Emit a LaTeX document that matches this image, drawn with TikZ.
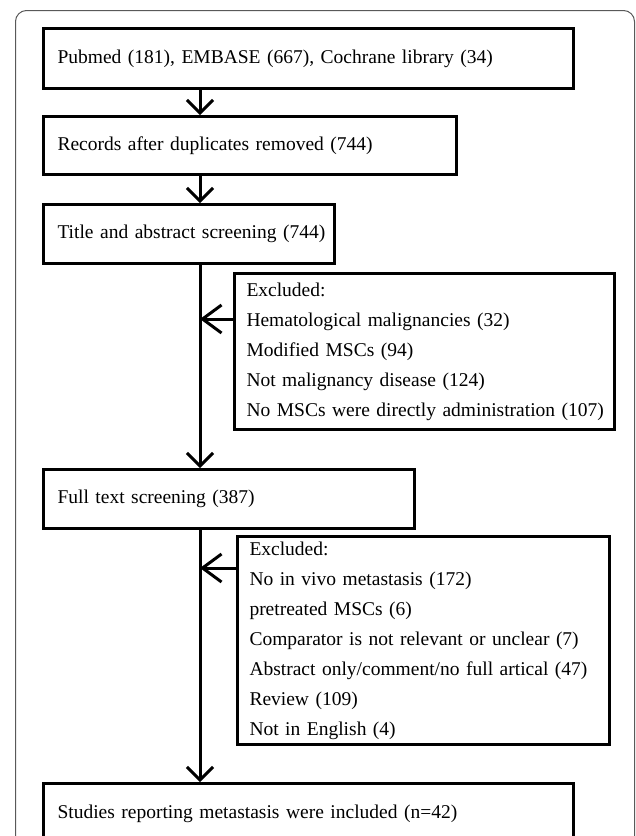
\documentclass[tikz,border=0pt]{standalone}
\usepackage{fontspec}
\setmainfont{Liberation Serif}
\usetikzlibrary{arrows.meta}
\newcommand{\oneline}[1]{\mbox{#1}}
\begin{document}
\begin{tikzpicture}[x=1pt,y=-1pt,
  box/.style={draw=black,line width=3pt,fill=white,anchor=north west,align=left,
    inner xsep=14pt,inner ysep=0pt,font=\fontsize{19.5}{30}\selectfont},
  exbox/.style={box,inner xsep=12pt},
  arr/.style={line width=3pt,-{Straight Barb[length=13pt,width=26pt,line width=3pt]}},
  harr/.style={line width=3pt,-{Straight Barb[length=19pt,width=28pt,line width=3pt]}},
  frame/.style={draw=black!65,line width=1pt,rounded corners=11pt}]
\useasboundingbox (0,0) rectangle (636,836);
\begin{scope}
\clip (0,0) rectangle (636,836);
\draw[frame] (15.5,10.5) rectangle (634.5,900);
\end{scope}
\node[box,minimum height=60pt,text width=502pt] (b1) at (42,27) {\oneline{Pubmed (181), EMBASE (667), Cochrane library (34)}};
\node[box,minimum height=58pt,text width=385pt] (b2) at (42,115) {\oneline{Records after duplicates removed (744)}};
\node[box,minimum height=59pt,text width=263pt] (b3) at (42,203) {\oneline{Title and abstract screening (744)}};
\node[exbox,minimum height=156pt,text width=356pt] (e1) at (233,272) {\oneline{Excluded:}\\\oneline{Hematological malignancies (32)}\\\oneline{Modified MSCs (94)}\\\oneline{Not malignancy disease (124)}\\\oneline{No MSCs were directly administration (107)}};
\node[box,minimum height=59pt,text width=343pt] (b4) at (42,468) {\oneline{Full text screening (387)}};
\node[exbox,minimum height=208pt,text width=348pt] (e2) at (236,535) {\oneline{Excluded:}\\\oneline{No in vivo metastasis (172)}\\\oneline{pretreated MSCs (6)}\\\oneline{Comparator is not relevant or unclear (7)}\\\oneline{Abstract only/comment/no full artical (47)}\\\oneline{Review (109)}\\\oneline{Not in English (4)}};
\node[box,minimum height=60pt,text width=502pt] (b5) at (42,782) {\oneline{Studies reporting metastasis were included (n=42)}};
\coordinate (vx) at (200,0);
\coordinate (h1) at (0,319);
\coordinate (h2) at (0,568);
\draw[arr] (b1.south -| vx) -- (b2.north -| vx);
\draw[arr] (b2.south -| vx) -- (b3.north -| vx);
\draw[arr] (b3.south -| vx) -- (b4.north -| vx);
\draw[arr] (b4.south -| vx) -- (b5.north -| vx);
\draw[harr] (e1.west |- h1) -- (vx |- h1);
\draw[harr] (e2.west |- h2) -- (vx |- h2);
\end{tikzpicture}
\end{document}
